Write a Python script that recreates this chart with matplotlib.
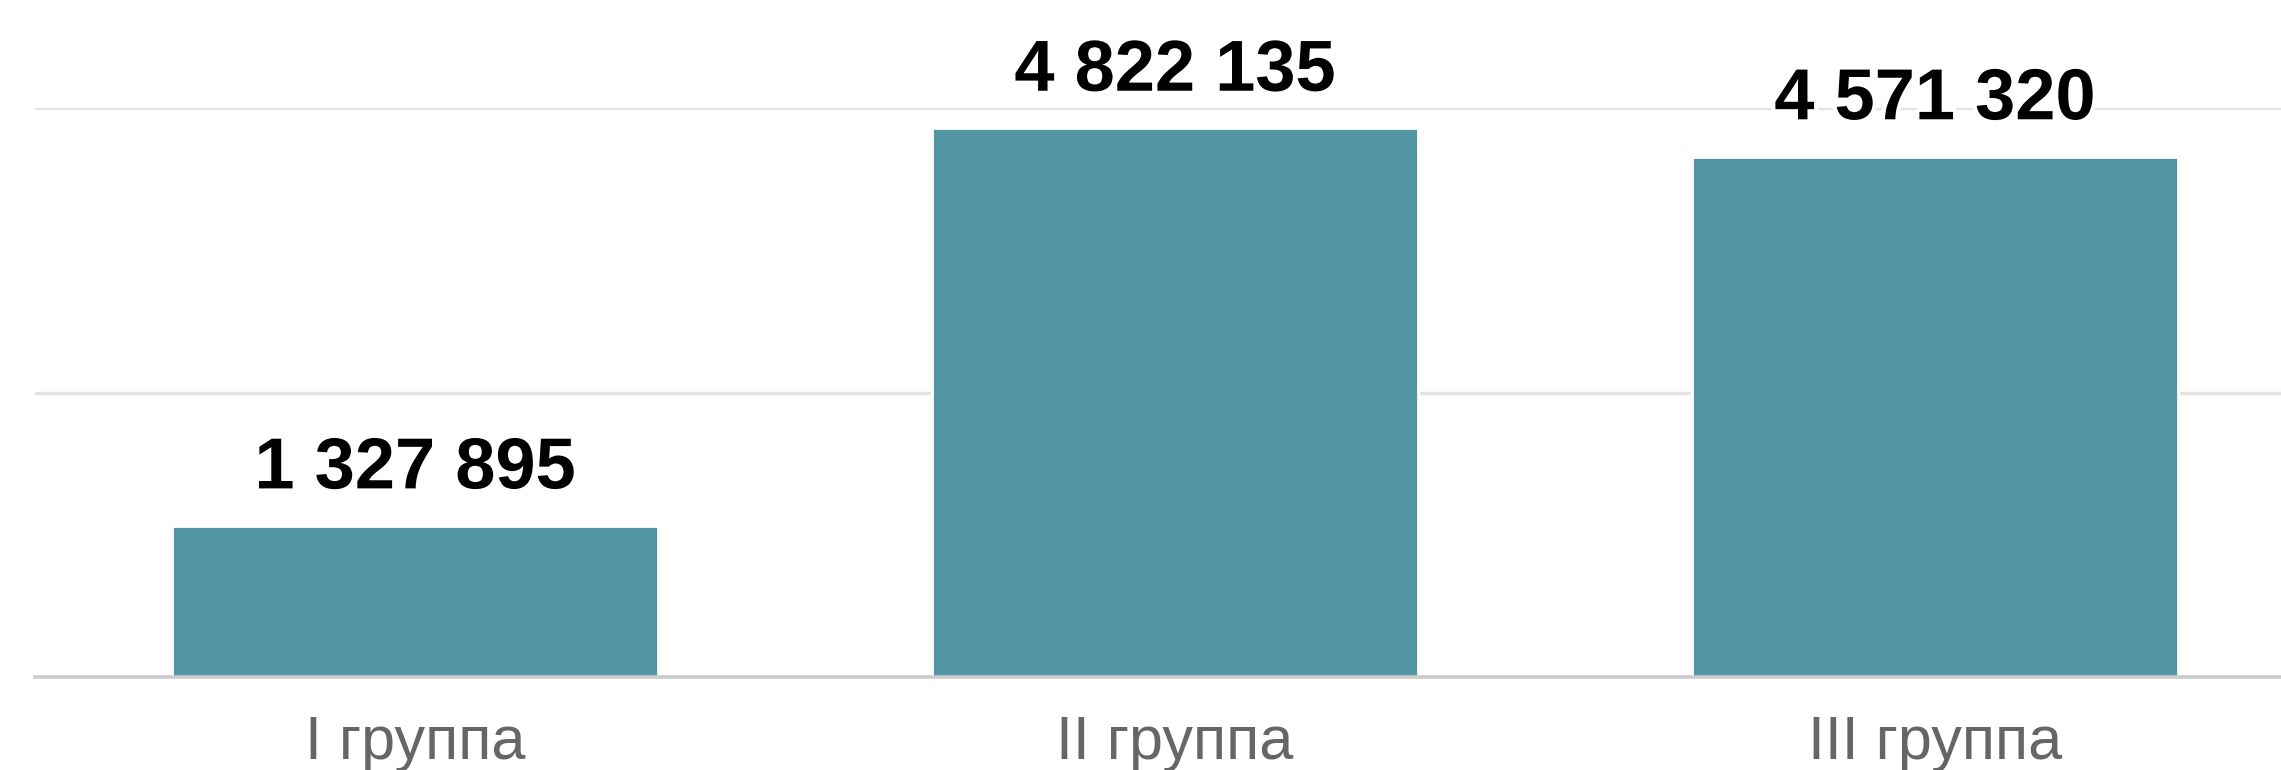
import matplotlib.pyplot as plt
import matplotlib.patheffects as pe

groups = ["I группа", "II группа", "III группа"]
values = [1327895, 4822135, 4571320]
grid_ticks = [2500000, 5000000]

plt.rcParams['font.family'] = ['Liberation Sans', 'DejaVu Sans']

fig = plt.figure(figsize=(22.81, 7.70), dpi=100)
# axis runs a bit past the right edge, as in the original crop
ax = fig.add_axes([35 / 2281, 1 - 677 / 770, 2280 / 2281, (677 - 108) / 770])

x = range(len(groups))
ax.bar(x, values, width=0.64, color="#5296a5", edgecolor="white", linewidth=2, zorder=3)

ax.set_xlim(-0.5, 2.5)
ax.set_ylim(0, 5000000)
ax.set_yticks(grid_ticks)
ax.yaxis.grid(True, color="#e3e3e3", linewidth=2.5, zorder=0)
ax.set_axisbelow(True)
ax.tick_params(axis="y", left=False, labelleft=False)
ax.tick_params(axis="x", length=0, pad=27, labelsize=44, labelcolor="#666666")
ax.set_xticks(list(x))
ax.set_xticklabels(groups)

for s in ["top", "right", "left"]:
    ax.spines[s].set_visible(False)
ax.spines["bottom"].set_color("#cccccc")
ax.spines["bottom"].set_linewidth(2.6)
ax.spines["bottom"].set_zorder(4)

for i, v in enumerate(values):
    lbl = f"{v:,}".replace(",", " ")
    ax.annotate(lbl, (i, v), xytext=(0, 27), textcoords="offset points",
                ha="center", va="baseline", fontsize=52, fontweight="bold",
                color="black", clip_on=False, zorder=5,
                path_effects=[pe.withStroke(linewidth=6, foreground="white")])

fig.savefig("out.png", dpi=100)
